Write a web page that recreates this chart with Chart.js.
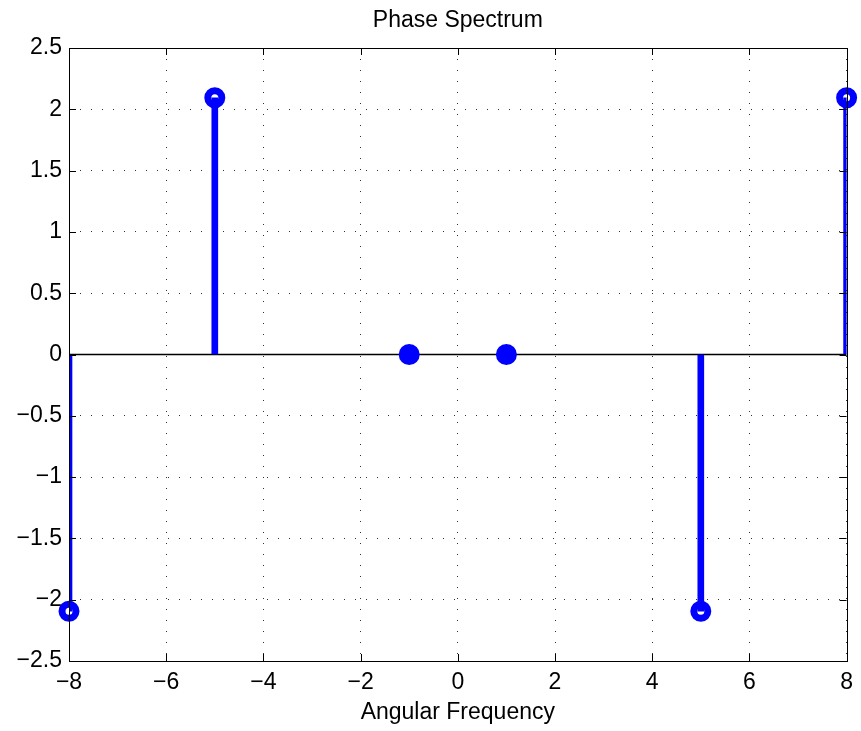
<!DOCTYPE html>
<html lang="en">
<head>
    <meta charset="UTF-8">
    <title>Phase Spectrum</title>
    <script src="https://cdn.jsdelivr.net/npm/chart.js"></script>
    <style>
        body {
            margin: 0;
            padding: 0;
            background-color: white;
        }
        .grafico-container {
            width: 861px;
            height: 731px;
            position: relative;
        }
    </style>
</head>
<body>

<div class="grafico-container">
    <canvas id="graficoFase"></canvas>
</div>

<script>
    // datos del espectro de fase
    const frecuencias = [-8, -5, -1, 1, 5, 8];
    const fases = [-2.094, 2.094, 0, 0, -2.094, 2.094];
    const xTicks = [-8, -6, -4, -2, 0, 2, 4, 6, 8];
    const yTicks = [-2.5, -2, -1.5, -1, -0.5, 0, 0.5, 1, 1.5, 2, 2.5];

    const azul = '#0000ff';
    const fuente = '"Liberation Sans", Arial, sans-serif';

    const puntos = frecuencias.map((x, i) => ({ x: x, y: fases[i] }));
    const lineaBase = [
        { x: xTicks[0], y: 0 },
        { x: xTicks[xTicks.length - 1], y: 0 }
    ];

    const formatear = v => String(v).replace('-', '\u2212');

    // caja de ejes y marcas hacia dentro, estilo MATLAB
    const cajaEjes = {
        id: 'cajaEjes',
        afterDatasetsDraw(chart) {
            const { ctx, chartArea: a, scales } = chart;
            const largo = 7;
            ctx.save();
            ctx.strokeStyle = '#000';
            ctx.lineWidth = 1;
            ctx.beginPath();
            xTicks.forEach(v => {
                const px = Math.round(scales.x.getPixelForValue(v)) + 0.5;
                ctx.moveTo(px, a.bottom); ctx.lineTo(px, a.bottom - largo);
                ctx.moveTo(px, a.top); ctx.lineTo(px, a.top + largo);
            });
            yTicks.forEach(v => {
                const py = Math.round(scales.y.getPixelForValue(v)) + 0.5;
                ctx.moveTo(a.left, py); ctx.lineTo(a.left + largo, py);
                ctx.moveTo(a.right, py); ctx.lineTo(a.right - largo, py);
            });
            ctx.stroke();
            ctx.strokeRect(Math.round(a.left) + 0.5, Math.round(a.top) + 0.5,
                Math.round(a.right - a.left), Math.round(a.bottom - a.top));
            ctx.restore();
        }
    };

    const ctx = document.getElementById('graficoFase').getContext('2d');
    const miGrafico = new Chart(ctx, {
        data: {
            datasets: [
                {
                    type: 'line',
                    data: lineaBase,
                    borderColor: '#000',
                    borderWidth: 1.5,
                    pointRadius: 0,
                    order: 3
                },
                {
                    type: 'scatter',
                    data: puntos,
                    pointStyle: 'circle',
                    pointRadius: 7,
                    pointBorderWidth: 7,
                    pointBorderColor: azul,
                    pointBackgroundColor: c => (c.raw && c.raw.y === 0) ? azul : '#fff',
                    pointHoverRadius: 7,
                    clip: false,
                    order: 2
                },
                {
                    type: 'bar',
                    data: puntos,
                    backgroundColor: azul,
                    borderWidth: 0,
                    barThickness: 6,
                    order: 1
                }
            ]
        },
        options: {
            responsive: true,
            maintainAspectRatio: false,
            animation: false,
            events: [],
            layout: { padding: { left: 0, right: 13, top: 0, bottom: 0 } },
            plugins: {
                legend: { display: false },
                tooltip: { enabled: false },
                title: {
                    display: true,
                    text: 'Phase Spectrum',
                    color: '#000',
                    fullSize: false,
                    font: { family: fuente, size: 23, weight: 'normal', lineHeight: 1.2 },
                    padding: { top: 7.2, bottom: 13.2 }
                }
            },
            scales: {
                x: {
                    type: 'linear',
                    min: -8,
                    max: 8,
                    offset: false,
                    afterBuildTicks: s => { s.ticks = xTicks.map(v => ({ value: v })); },
                    afterFit: s => { s.height = 70; },
                    ticks: {
                        color: '#000',
                        padding: 8,
                        maxRotation: 0,
                        font: { family: fuente, size: 23, lineHeight: 1.2 },
                        callback: formatear
                    },
                    grid: {
                        color: 'rgba(0,0,0,0.8)',
                        lineWidth: 1,
                        offset: false,
                        drawTicks: false
                    },
                    border: { display: false, dash: [1, 10] },
                    title: {
                        display: true,
                        text: 'Angular Frequency',
                        color: '#000',
                        font: { family: fuente, size: 23, lineHeight: 1.2 },
                        padding: { top: 1, bottom: 5 }
                    }
                },
                y: {
                    type: 'linear',
                    min: -2.5,
                    max: 2.5,
                    afterBuildTicks: s => { s.ticks = yTicks.map(v => ({ value: v })); },
                    afterFit: s => { s.width = 69; },
                    ticks: {
                        color: '#000',
                        padding: 7,
                        font: { family: fuente, size: 23, lineHeight: 1.2 },
                        callback: formatear
                    },
                    grid: {
                        color: 'rgba(0,0,0,0.8)',
                        lineWidth: 1,
                        drawTicks: false
                    },
                    border: { display: false, dash: [1, 10] }
                }
            }
        },
        plugins: [cajaEjes]
    });
</script>

</body>
</html>
